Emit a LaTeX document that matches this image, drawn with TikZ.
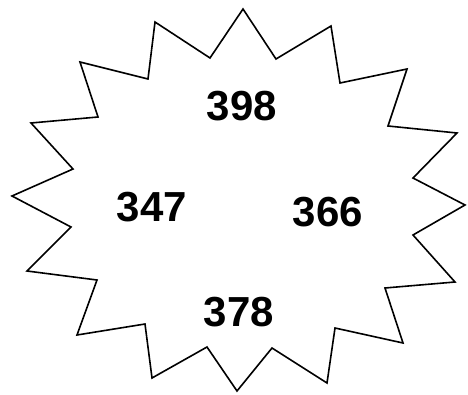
\documentclass[tikz,border=0pt]{standalone}
\usepackage{fontspec}
\setmainfont{Liberation Sans}
\usepackage{tikz}
\tikzset{
 burst edge/.style={line width=1.6pt,line join=miter,black},
 burst label/.style={font=\fontsize{42}{44}\selectfont\bfseries,inner sep=0pt}
}
\begin{document}
\begin{tikzpicture}[x=1pt,y=1pt]
 \useasboundingbox (0,0) rectangle (468,394);
 % outer and inner corners, clockwise from the top
 \foreach \px/\py [count=\k] in {243/385,276/335,331/368,340/311,407/325,388/268,
   457/261,413/216,465/189,413/159,455/112,385/106,403/51,335/66,327/11,272/46,
   237/3,207/47,152/16,145/70,77/59,97/114,27/123,71/167,12/198,73/225,
   31/271,98/277,80/332,148/315,155/372,210/336}
   \coordinate (b\k) at (\px,\py);
 \draw[burst edge] (b1) \foreach \k in {2,...,32} {-- (b\k)} -- cycle;

 \node[burst label] (top) at (242,288) {398};
 \node[burst label] (left) at (152,187) {347};
 \node[burst label] (right) at (328,182) {366};
 \node[burst label] (bottom) at (239,82) {378};
\end{tikzpicture}
\end{document}
